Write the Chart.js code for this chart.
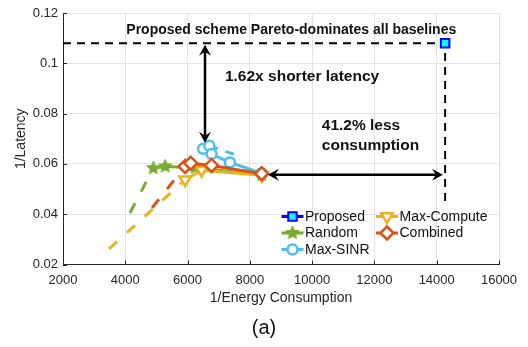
<!DOCTYPE html>
<html>
<head>
<meta charset="utf-8">
<script src="https://cdn.jsdelivr.net/npm/chart.js@4.4.1/dist/chart.umd.min.js"></script>
<style>
  html, body { margin: 0; padding: 0; background: #fff; }
  #wrap { width: 528px; height: 347px; }
</style>
</head>
<body>
<div id="wrap"><canvas id="myChart" width="528" height="347"></canvas></div>
<script>
// values (x = 1/energy, y = 1/latency)
const proposedX = [14270];
const proposedY = [0.108];

const randomX = [4900, 5280, 6250, 8380];
const randomY = [0.0583, 0.0590, 0.0585, 0.0556];
const randomDashX = [4150, 4900];
const randomDashY = [0.0405, 0.0583];

const sinrX = [6500, 6700, 6770, 7360, 8380];
const sinrY = [0.0660, 0.0672, 0.0639, 0.0606, 0.0563];
const sinrDashX = [6700, 7520];
const sinrDashY = [0.0672, 0.0637];

const computeX = [5920, 6450, 8390];
const computeY = [0.0537, 0.0575, 0.0555];
const computeDashX = [3480, 5920];
const computeDashY = [0.0262, 0.0537];

const combinedX = [5920, 6100, 6770, 8380];
const combinedY = [0.0590, 0.0603, 0.0594, 0.0561];
const combinedDashX = [4860, 5920];
const combinedDashY = [0.0425, 0.0590];

// guide lines and arrows
const paretoX = [2000, 14270, 14270];
const paretoY = [0.108, 0.108, 0.0437];
const latencyArrowX = [6560, 6560];
const latencyArrowY = [0.0684, 0.1074];
const energyArrowX = [8580, 14200];
const energyArrowY = [0.0557, 0.0557];

const xTicks = [2000, 4000, 6000, 8000, 10000, 12000, 14000, 16000];
const yTicks = [0.02, 0.04, 0.06, 0.08, 0.1, 0.12];

const labels = ['Proposed', 'Random', 'Max-SINR', 'Max-Compute', 'Combined'];

const FONT = '"Liberation Sans", Arial, Helvetica, sans-serif';
Chart.defaults.font.family = FONT;

const pts = (xs, ys) => xs.map((x, i) => ({ x: x, y: ys[i] }));

function makeStar(color, r) {
  const c = document.createElement('canvas');
  const s = Math.ceil(r * 2 + 2);
  c.width = s; c.height = s;
  const g = c.getContext('2d');
  g.beginPath();
  for (let i = 0; i < 10; i++) {
    const rad = i % 2 ? r * 0.45 : r;
    const a = -Math.PI / 2 + i * Math.PI / 5;
    g.lineTo(s / 2 + rad * Math.cos(a), s / 2 + rad * Math.sin(a));
  }
  g.closePath();
  g.fillStyle = color;
  g.fill();
  g.strokeStyle = color;
  g.lineWidth = 1;
  g.stroke();
  return c;
}

const GREEN = '#77AC30', BLUE = '#4DBEEE', YELLOW = '#EDB120', RED = '#D95319';
const star = makeStar(GREEN, 7);

function series(label, xs, ys, color, style, extra, order) {
  return Object.assign({
    label: label,
    data: pts(xs, ys),
    showLine: true,
    borderColor: color,
    borderWidth: 3,
    pointBorderColor: color,
    pointBackgroundColor: '#fff',
    pointBorderWidth: 2.5,
    pointStyle: style,
    pointRadius: 5,
    order: order
  }, extra);
}

function dashed(xs, ys, color, order) {
  return {
    data: pts(xs, ys),
    showLine: true,
    borderColor: color,
    borderWidth: 3,
    borderDash: [11, 13],
    pointRadius: 0,
    order: order
  };
}

const datasets = [
  series('Proposed', proposedX, proposedY, '#0000FF', 'rect',
    { pointBackgroundColor: '#00FFFF', pointRadius: 6, pointBorderWidth: 2 }, 5),
  series('Random', randomX, randomY, GREEN, star,
    { pointBackgroundColor: GREEN, pointRadius: 7 }, 4),
  series('Max-SINR', sinrX, sinrY, BLUE, 'circle', {}, 3),
  series('Max-Compute', computeX, computeY, YELLOW, 'triangle',
    { pointRotation: 180, pointRadius: 6.5 }, 2),
  series('Combined', combinedX, combinedY, RED, 'rectRot', { pointRadius: 6.5 }, 1),
  dashed(randomDashX, randomDashY, GREEN, 9),
  Object.assign(dashed(sinrDashX, sinrDashY, BLUE, 8), { borderDash: [9, 8] }),
  dashed(computeDashX, computeDashY, YELLOW, 7),
  dashed(combinedDashX, combinedDashY, RED, 6),
  {
    data: pts(paretoX, paretoY),
    showLine: true,
    borderColor: '#000',
    borderWidth: 2,
    borderDash: [8, 6],
    pointRadius: 0,
    order: 10
  }
];

function arrowHead(ctx, x, y, ang) {
  const len = 11, half = 6, notch = 4;
  ctx.save();
  ctx.translate(x, y);
  ctx.rotate(ang);
  ctx.beginPath();
  ctx.moveTo(0, 0);
  ctx.lineTo(-len, -half);
  ctx.lineTo(-len + notch, 0);
  ctx.lineTo(-len, half);
  ctx.closePath();
  ctx.fill();
  ctx.restore();
}

const annotate = {
  id: 'annotate',
  afterDatasetsDraw(chart) {
    const ctx = chart.ctx;
    const xs = chart.scales.x, ys = chart.scales.y;
    const area = chart.chartArea;

    // inward tick marks
    ctx.save();
    ctx.strokeStyle = '#262626';
    ctx.lineWidth = 1;
    xTicks.forEach(v => {
      const px = Math.round(xs.getPixelForValue(v)) + 0.5;
      ctx.beginPath(); ctx.moveTo(px, area.bottom); ctx.lineTo(px, area.bottom - 4); ctx.stroke();
    });
    yTicks.forEach(v => {
      const py = Math.round(ys.getPixelForValue(v)) + 0.5;
      ctx.beginPath(); ctx.moveTo(area.left, py); ctx.lineTo(area.left + 4, py); ctx.stroke();
    });
    ctx.restore();

    // double arrows
    ctx.save();
    ctx.strokeStyle = '#000';
    ctx.fillStyle = '#000';
    ctx.lineWidth = 2.5;
    [[latencyArrowX, latencyArrowY], [energyArrowX, energyArrowY]].forEach(([ax, ay]) => {
      const x1 = xs.getPixelForValue(ax[0]), y1 = ys.getPixelForValue(ay[0]);
      const x2 = xs.getPixelForValue(ax[1]), y2 = ys.getPixelForValue(ay[1]);
      const ang = Math.atan2(y2 - y1, x2 - x1);
      ctx.beginPath();
      ctx.moveTo(x1 + Math.cos(ang) * 6, y1 + Math.sin(ang) * 6);
      ctx.lineTo(x2 - Math.cos(ang) * 6, y2 - Math.sin(ang) * 6);
      ctx.stroke();
      arrowHead(ctx, x2, y2, ang);
      arrowHead(ctx, x1, y1, ang + Math.PI);
    });
    ctx.restore();

    // text notes
    ctx.save();
    ctx.fillStyle = '#111';
    ctx.textBaseline = 'middle';
    ctx.font = 'bold 14px ' + FONT;
    ctx.textAlign = 'center';
    ctx.fillText('Proposed scheme Pareto-dominates all baselines', xs.getPixelForValue(9330), ys.getPixelForValue(0.1133));
    ctx.textAlign = 'left';
    ctx.font = 'bold 15.5px ' + FONT;
    ctx.fillText('1.62x shorter latency', xs.getPixelForValue(7200), ys.getPixelForValue(0.0948));
    ctx.fillText('41.2% less', xs.getPixelForValue(10310), ys.getPixelForValue(0.0753));
    ctx.fillText('consumption', xs.getPixelForValue(10310), ys.getPixelForValue(0.0674));
    ctx.restore();

    // legend (two columns, line + marker)
    const ds = chart.data.datasets;
    const slots = [[292.5, 216.5], [292.5, 233], [292.5, 249.5], [387, 216.5], [387, 233]];
    ctx.save();
    labels.forEach((name, i) => {
      const d = ds.find(s => s.label === name);
      const [cx, cy] = slots[i];
      ctx.strokeStyle = d.borderColor;
      ctx.lineWidth = 3;
      ctx.setLineDash([]);
      ctx.beginPath(); ctx.moveTo(cx - 11, cy); ctx.lineTo(cx + 11, cy); ctx.stroke();
      ctx.fillStyle = d.pointBackgroundColor;
      ctx.strokeStyle = d.pointBorderColor;
      ctx.lineWidth = d.pointBorderWidth;
      Chart.helpers.drawPoint(ctx, {
        pointStyle: d.pointStyle,
        radius: d.pointRadius,
        rotation: d.pointRotation || 0,
        borderWidth: d.pointBorderWidth
      }, cx, cy);
      ctx.fillStyle = '#111';
      ctx.font = '14px ' + FONT;
      ctx.textAlign = 'left';
      ctx.textBaseline = 'middle';
      ctx.fillText(name, cx + 12.5, cy + 0.5);
    });
    ctx.restore();
  },
  afterDraw(chart) {
    const ctx = chart.ctx;
    ctx.save();
    ctx.fillStyle = '#111';
    ctx.font = '20px ' + FONT;
    ctx.textAlign = 'center';
    ctx.textBaseline = 'middle';
    ctx.fillText('(a)', 264, 328);
    ctx.restore();
  }
};

const ctx = document.getElementById('myChart').getContext('2d');
const chart = new Chart(ctx, {
  type: 'scatter',
  data: { datasets: datasets },
  options: {
    responsive: false,
    animation: false,
    layout: { padding: { left: 0, right: 29, top: 13, bottom: 0 } },
    plugins: {
      legend: { display: false },
      tooltip: { enabled: false }
    },
    scales: {
      x: {
        type: 'linear',
        min: 2000,
        max: 16000,
        afterFit: s => { s.height = 82.5; },
        afterBuildTicks: s => { s.ticks = xTicks.map(v => ({ value: v })); },
        ticks: {
          color: '#262626',
          font: { size: 13 },
          padding: 8,
          maxRotation: 0,
          callback: v => String(v)
        },
        grid: { color: '#e3e3e3', lineWidth: 1, drawTicks: false },
        border: { display: true, color: '#262626', width: 1 },
        title: {
          display: true,
          text: '1/Energy Consumption',
          color: '#262626',
          font: { size: 14 },
          padding: { top: 0, bottom: 40 }
        }
      },
      y: {
        type: 'linear',
        min: 0.02,
        max: 0.12,
        afterFit: s => { s.width = 63; },
        afterBuildTicks: s => { s.ticks = yTicks.map(v => ({ value: v })); },
        ticks: {
          color: '#262626',
          font: { size: 13 },
          padding: 5,
          callback: v => String(Number(v.toFixed(2)))
        },
        grid: { color: '#e3e3e3', lineWidth: 1, drawTicks: false },
        border: { display: true, color: '#262626', width: 1 },
        title: {
          display: true,
          text: '1/Latency',
          color: '#262626',
          font: { size: 14 },
          padding: { top: 13, bottom: 0 }
        }
      }
    }
  },
  plugins: [annotate]
});
</script>
</body>
</html>
